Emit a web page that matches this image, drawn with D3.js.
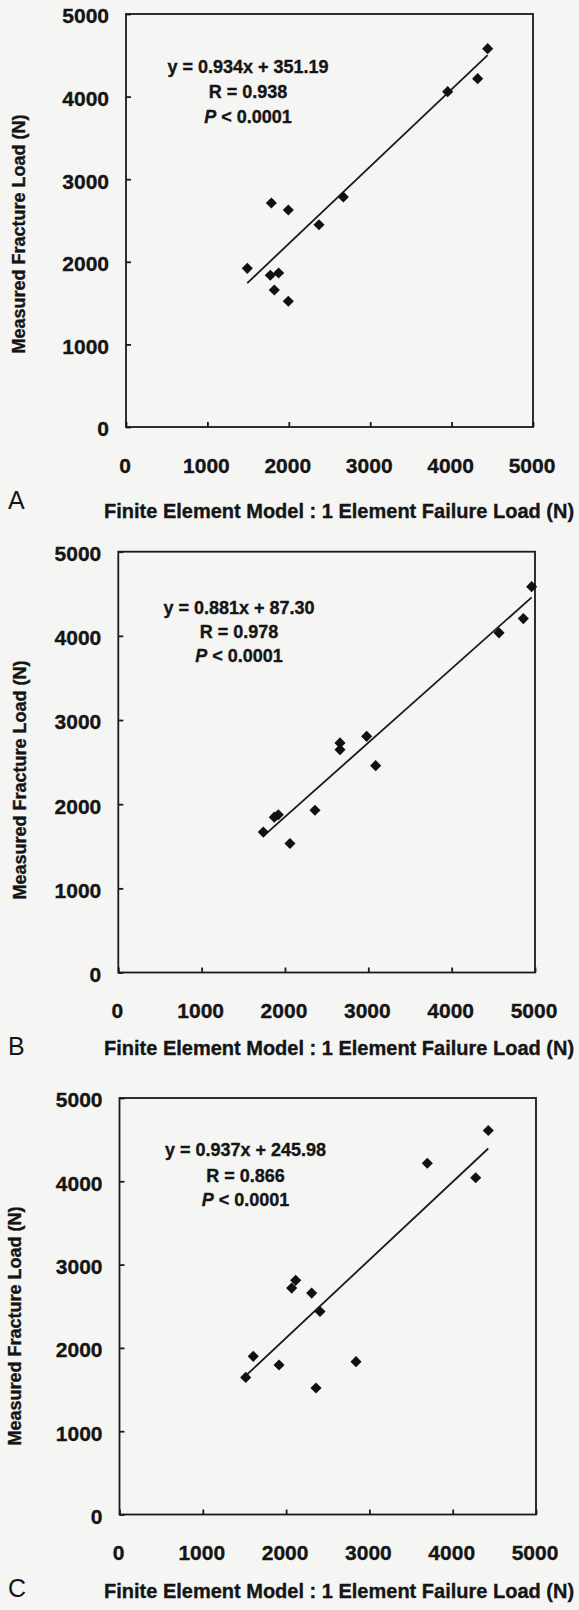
<!DOCTYPE html>
<html lang="en">
<head>
<meta charset="utf-8">
<script src="https://d3js.org/d3.v7.min.js"></script>
<style>
  body { margin: 0; background: #f5f5f3; }
  text { font-family: "Liberation Sans", Arial, sans-serif; fill: #151515; }
  .heavy { stroke: #151515; stroke-width: 0.35px; }
</style>
</head>
<body>
<script>
// values (N)
var ticks = [0, 1000, 2000, 3000, 4000, 5000];
var panelLetters = ["A", "B", "C"];

var feA = [4443, 4320, 3952, 2670, 2371, 1786, 1994, 1490, 1773, 1875, 1822, 1994];
var measA = [4580, 4217, 4060, 2785, 2449, 2712, 2627, 1921, 1837, 1864, 1659, 1522];

var feB = [4960, 4860, 4568, 2980, 2660, 2660, 3088, 2360, 1920, 1872, 1740, 2060];
var measB = [4585, 4205, 4036, 2806, 2728, 2648, 2458, 1928, 1874, 1846, 1668, 1533];

var feC = [4427, 3695, 4276, 2115, 2067, 2307, 2407, 1606, 1915, 2839, 1515, 2359];
var measC = [4610, 4217, 4043, 2811, 2718, 2658, 2437, 1899, 1795, 1835, 1646, 1518];

var slopes = [0.934, 0.881, 0.937];
var intercepts = [351.19, 87.30, 245.98];
var rValues = ["0.938", "0.978", "0.866"];
var pValue = "< 0.0001";

var xTitle = "Finite Element Model : 1 Element Failure Load (N)";
var yTitle = "Measured Fracture Load (N)";

// where each panel sits on the page
var layout = [
  {left: 126, right: 533, top: 14, bottom: 427, eqX: 248, eqY: [73, 98, 123], yTitleX: 25, yTitleY: 234, titleY: 518, letterY: 509},
  {left: 118.3, right: 535, top: 551.7, bottom: 972.5, eqX: 239, eqY: [614, 638, 662], yTitleX: 26, yTitleY: 780, titleY: 1055, letterY: 1055},
  {left: 119.5, right: 536, top: 1098, bottom: 1514.5, eqX: 245.5, eqY: [1156, 1182, 1206], yTitleX: 21, yTitleY: 1326, titleY: 1598, letterY: 1597}
];

var feData = [feA, feB, feC];
var measData = [measA, measB, measC];

var svg = d3.select("body").append("svg")
  .attr("width", 579)
  .attr("height", 1610);

for (var p = 0; p < 3; p++) {
  var L = layout[p];
  var pts = feData[p].map(function (v, i) { return {fe: v, meas: measData[p][i]}; });

  var x = d3.scaleLinear().domain([0, 5000]).range([L.left, L.right]);
  var y = d3.scaleLinear().domain([0, 5000]).range([L.bottom, L.top]);

  var g = svg.append("g");

  // frame
  g.append("rect")
    .attr("x", L.left).attr("y", L.top)
    .attr("width", L.right - L.left).attr("height", L.bottom - L.top)
    .attr("fill", "none").attr("stroke", "#1a1a1a").attr("stroke-width", 1.8);

  // x axis, ticks pointing inwards
  var xa = g.append("g")
    .attr("transform", "translate(0," + L.bottom + ")")
    .call(d3.axisBottom(x).tickValues(ticks).tickFormat(d3.format("d"))
      .tickSize(-5).tickSizeOuter(0).tickPadding(31));
  xa.select(".domain").remove();
  xa.selectAll("line").attr("stroke", "#1a1a1a").attr("stroke-width", 1.8);
  xa.selectAll("text")
    .attr("dx", -1.5)
    .attr("class", "heavy")
    .style("font-size", "21px").style("font-weight", "bold")
    .attr("fill", "#151515");

  // y axis
  var ya = g.append("g")
    .attr("transform", "translate(" + L.left + ",0)")
    .call(d3.axisLeft(y).tickValues(ticks).tickFormat(d3.format("d"))
      .tickSize(-5).tickSizeOuter(0).tickPadding(17));
  ya.select(".domain").remove();
  ya.selectAll("line").attr("stroke", "#1a1a1a").attr("stroke-width", 1.8);
  ya.selectAll("text")
    .attr("dy", "0.42em")
    .attr("class", "heavy")
    .style("font-size", "21px").style("font-weight", "bold")
    .attr("fill", "#151515");

  // regression line over the data range
  var xmin = d3.min(feData[p]), xmax = d3.max(feData[p]);
  var a = slopes[p], b = intercepts[p];
  g.append("line")
    .attr("x1", x(xmin)).attr("y1", y(a * xmin + b))
    .attr("x2", x(xmax)).attr("y2", y(a * xmax + b))
    .attr("stroke", "#1a1a1a").attr("stroke-width", 1.8);

  // diamonds
  g.selectAll("path.pt")
    .data(pts)
    .enter()
    .append("path")
    .attr("class", "pt")
    .attr("d", d3.symbol().type(d3.symbolSquare).size(62))
    .attr("transform", function (d) { return "translate(" + x(d.fe) + "," + y(d.meas) + ") rotate(45)"; })
    .attr("fill", "#111");

  // equation block
  g.append("text")
    .attr("class", "heavy")
    .attr("x", L.eqX).attr("y", L.eqY[0])
    .attr("text-anchor", "middle")
    .style("font-size", "18px").style("font-weight", "bold")
    .text("y = " + a.toFixed(3) + "x + " + b.toFixed(2));
  g.append("text")
    .attr("class", "heavy")
    .attr("x", L.eqX).attr("y", L.eqY[1])
    .attr("text-anchor", "middle")
    .style("font-size", "18px").style("font-weight", "bold")
    .text("R = " + rValues[p]);
  var pt = g.append("text")
    .attr("class", "heavy")
    .attr("x", L.eqX).attr("y", L.eqY[2])
    .attr("text-anchor", "middle")
    .style("font-size", "18px").style("font-weight", "bold");
  pt.append("tspan").style("font-style", "italic").text("P");
  pt.append("tspan").text(" " + pValue);

  // axis titles
  g.append("text")
    .attr("class", "heavy")
    .attr("transform", "translate(" + L.yTitleX + "," + L.yTitleY + ") rotate(-90)")
    .attr("text-anchor", "middle")
    .style("font-size", "18px").style("font-weight", "bold")
    .text(yTitle);

  g.append("text")
    .attr("class", "heavy")
    .attr("x", 104).attr("y", L.titleY)
    .style("font-size", "20px").style("font-weight", "bold")
    .text(xTitle);

  g.append("text")
    .attr("x", 8).attr("y", L.letterY)
    .style("font-size", "25px")
    .text(panelLetters[p]);
}
</script>
</body>
</html>
